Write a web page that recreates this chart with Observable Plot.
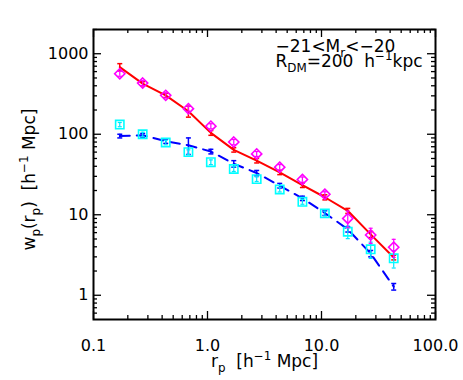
<!DOCTYPE html>
<html>
<head>
<meta charset="utf-8">
<script src="https://cdn.jsdelivr.net/npm/d3@7"></script>
<script src="https://cdn.jsdelivr.net/npm/@observablehq/plot@0.6"></script>
<style>
  html, body { margin: 0; padding: 0; background: #fff; }
  #chart { width: 463px; height: 380px; }
</style>
</head>
<body>
<div id="chart"></div>
<script>
// ---- data ----
const rp        = [0.17, 0.27, 0.43, 0.68, 1.07, 1.7, 2.7, 4.3, 6.8, 10.7, 17, 27, 43];
// magenta diamonds
const wpObs     = [565, 432, 304, 208, 126, 80, 57, 39, 27.4, 18, 9.0, 5.6, 3.95];
const wpObsErr  = [40, 30, 21, 15, 9, 6, 4, 3, 2, 1.3, 2.1, 1.2, 1.0];
// red solid line with error bars
const wpRed     = [683, 425, 304, 193, 104, 64, 47, 33.5, 23.3, 16.5, 11.2, 5.7, 2.95];
const wpRedErr  = [70, 25, 18, 30, 7, 4, 3, 2, 1.5, 1.2, 0.8, 0.5, 0.2];
// cyan squares
const wpCyan    = [132, 100, 79, 60, 45, 37, 27.7, 20.6, 14.5, 10.4, 6.15, 3.72, 2.88];
const wpCyanErr = [8, 6, 5, 4, 3, 2.5, 1.8, 1.4, 1.0, 0.7, 1.1, 0.85, 0.7];
// blue dashed line with error bars
const wpBlue    = [95, 97, 82, 73, 61, 43, 33, 23, 16, 10.5, 6.6, 3.3, 1.28];
const wpBlueErr = [5, 5, 5, 17, 4, 4, 2.5, 1.5, 1.0, 0.7, 0.5, 0.3, 0.12];

const xMajor = [0.1, 1, 10, 100];
const xTickLabels = ["0.1", "1.0", "10.0", "100.0"];
const xMinor = [0.2, 0.3, 0.4, 0.5, 0.6, 0.7, 0.8, 0.9, 2, 3, 4, 5, 6, 7, 8, 9, 20, 30, 40, 50, 60, 70, 80, 90];
const yMajor = [1, 10, 100, 1000];
const yTickLabels = ["1", "10", "100", "1000"];
const yMinor = [0.6, 0.7, 0.8, 0.9, 2, 3, 4, 5, 6, 7, 8, 9, 20, 30, 40, 50, 60, 70, 80, 90,
                200, 300, 400, 500, 600, 700, 800, 900, 2000];

const xTitle = "r_{p}  [h^{−1} Mpc]";
const yTitle = "w_{p}(r_{p})  [h^{−1} Mpc]";
const annot1 = "−21<M_{r}<−20";
const annot2 = "R_{DM}=200  h^{−1}kpc";

// ---- table for the library ----
const rows = rp.map((r, i) => ({
  rp: r,
  obs: wpObs[i], obsLo: wpObs[i] - wpObsErr[i], obsHi: wpObs[i] + wpObsErr[i],
  red: wpRed[i], redLo: wpRed[i] - wpRedErr[i], redHi: wpRed[i] + wpRedErr[i],
  cyan: wpCyan[i], cyanLo: wpCyan[i] - wpCyanErr[i], cyanHi: wpCyan[i] + wpCyanErr[i],
  blue: wpBlue[i], blueLo: wpBlue[i] - wpBlueErr[i], blueHi: wpBlue[i] + wpBlueErr[i]
}));

const W = 463, H = 380;
const mL = 93, mR = 28, mT = 29, mB = 61;
const fw = W - mL - mR, fh = H - mT - mB;
const majLen = 8, minLen = 4;

const cap = { draw(ctx, size) { const w = Math.sqrt(size / Math.PI); ctx.moveTo(-w, 0); ctx.lineTo(w, 0); } };

function errorBars(key, color, capR, sw) {
  return [
    Plot.ruleX(rows, { x: "rp", y1: key + "Lo", y2: key + "Hi", stroke: color, strokeWidth: sw }),
    Plot.dot(rows, { x: "rp", y: key + "Lo", symbol: cap, r: capR, stroke: color, strokeWidth: sw }),
    Plot.dot(rows, { x: "rp", y: key + "Hi", symbol: cap, r: capR, stroke: color, strokeWidth: sw })
  ];
}

const tickStyle = { stroke: "black", strokeWidth: 1.3 };
const font = "DejaVu Sans";

const chart = Plot.plot({
  width: W, height: H,
  marginLeft: mL, marginRight: mR, marginTop: mT, marginBottom: mB,
  style: { fontFamily: font, fontSize: "16px", background: "white", color: "black" },
  x: { type: "log", domain: [0.1, 100] },
  y: { type: "log", domain: [0.5, 2000] },
  marks: [
    // inward ticks on all four sides
    Plot.ruleX(xMajor, { x: d => d, insetTop: fh - majLen, ...tickStyle }),
    Plot.ruleX(xMajor, { x: d => d, insetBottom: fh - majLen, ...tickStyle }),
    Plot.ruleX(xMinor, { x: d => d, insetTop: fh - minLen, ...tickStyle }),
    Plot.ruleX(xMinor, { x: d => d, insetBottom: fh - minLen, ...tickStyle }),
    Plot.ruleY(yMajor, { y: d => d, insetRight: fw - majLen, ...tickStyle }),
    Plot.ruleY(yMajor, { y: d => d, insetLeft: fw - majLen, ...tickStyle }),
    Plot.ruleY(yMinor, { y: d => d, insetRight: fw - minLen, ...tickStyle }),
    Plot.ruleY(yMinor, { y: d => d, insetLeft: fw - minLen, ...tickStyle }),
    Plot.axisX({ ticks: xMajor, tickFormat: d => xTickLabels[xMajor.indexOf(d)], tickSize: 0, tickPadding: 20, fontSize: 16, label: null }),
    Plot.axisY({ ticks: yMajor, tickFormat: d => yTickLabels[yMajor.indexOf(d)], tickSize: 0, tickPadding: 5, fontSize: 16, label: null }),
    // lines
    Plot.line(rows, { x: "rp", y: "red", stroke: "#ff0000", strokeWidth: 2 }),
    Plot.line(rows, { x: "rp", y: "blue", stroke: "#0000ff", strokeWidth: 2, strokeDasharray: "10,7" }),
    ...errorBars("red", "#ff0000", 2.5, 1.5),
    ...errorBars("blue", "#0000ff", 2.5, 1.5),
    // cyan squares
    ...errorBars("cyan", "#00e5ff", 2, 1.2),
    Plot.dot(rows, { x: "rp", y: "cyan", symbol: "square2", r: 5.3, stroke: "#00ffff", strokeWidth: 1.6 }),
    // magenta diamonds
    ...errorBars("obs", "#ff00ff", 2, 1.2),
    Plot.dot(rows, { x: "rp", y: "obs", symbol: "diamond2", r: 4.6, stroke: "#ff00ff", strokeWidth: 1.6 }),
    Plot.frame({ stroke: "black", strokeWidth: 2 }),
    // titles & annotation
    Plot.text([xTitle], { text: d => d, frameAnchor: "bottom", lineAnchor: "middle", dy: 42, fontSize: 17 }),
    Plot.text([yTitle], { text: d => d, frameAnchor: "left", rotate: -90, lineAnchor: "middle", dx: -64, dy: 76, fontSize: 17 }),
    Plot.text([annot1], { text: d => d, frameAnchor: "top-left", textAnchor: "start", lineAnchor: "middle", dx: 182, dy: 17, fontSize: 17 }),
    Plot.text([annot2], { text: d => d, frameAnchor: "top-left", textAnchor: "start", lineAnchor: "middle", dx: 182, dy: 32, fontSize: 17 })
  ]
});

document.getElementById("chart").appendChild(chart);

// rich text: turn _{..} / ^{..} into sub/superscript tspans
d3.select(chart).selectAll("text").each(function () {
  const el = this;
  const s = el.textContent;
  if (!/[_^]\{/.test(s)) return;
  const cs = getComputedStyle(el);
  const fs = parseFloat(cs.fontSize) || 17;
  const small = fs * 0.7;
  const subShift = -fs * 0.28, supShift = fs * 0.42;
  while (el.firstChild) el.removeChild(el.firstChild);
  const re = /([_^])\{([^}]*)\}/g;
  let last = 0, m;
  const add = (txt, shift) => {
    if (!txt) return;
    const t = d3.select(el).append("tspan").text(txt);
    if (shift !== undefined) t.attr("font-size", small).attr("baseline-shift", shift);
  };
  while ((m = re.exec(s))) {
    add(s.slice(last, m.index));
    add(m[2], m[1] === "_" ? subShift : supShift);
    last = re.lastIndex;
  }
  add(s.slice(last));
  el.setAttributeNS("http://www.w3.org/XML/1998/namespace", "xml:space", "preserve");
});
</script>
</body>
</html>
